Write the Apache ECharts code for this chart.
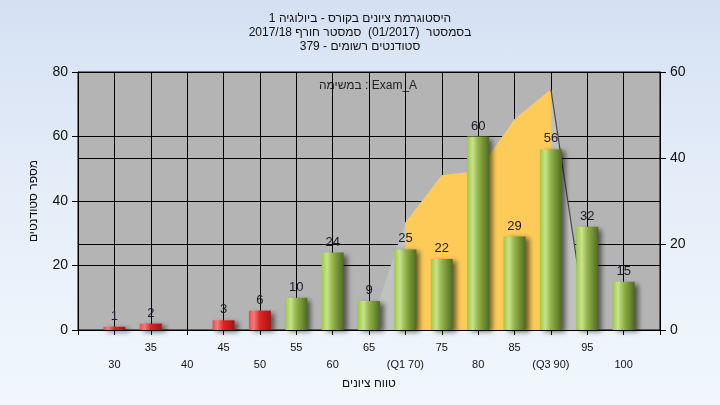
<!DOCTYPE html>
<html>
<head>
<meta charset="utf-8">
<script src="https://cdn.jsdelivr.net/npm/echarts@6/dist/echarts.min.js"></script>
<style>
html,body{margin:0;padding:0;}
#chart{width:720px;height:405px;background:linear-gradient(to bottom,#D5E1F3 0%,#E6EEF9 50%,#F1F7FD 100%);}
</style>
</head>
<body>
<div id="chart"></div>
<script>
// ---- data ----
const categories = [30, 35, 40, 45, 50, 55, 60, 65, 70, 75, 80, 85, 90, 95, 100];
const counts = [1, 2, 0, 3, 6, 10, 24, 9, 25, 22, 60, 29, 56, 32, 15];
const passMark = 55;
const q1 = 70;
const q3 = 90;
const areaX = [65, 70, 75, 80, 85, 90, 95, 100];
const areaValues = [0, 25, 36, 37, 49, 56, 0, 0];
const titleLines = [
  'היסטוגרמת ציונים בקורס - ביולוגיה 1',
  'בסמסטר  (01/2017)  סמסטר חורף 2017/18',
  'סטודנטים רשומים - 379'
];
const examLabel = 'במשימה : Exam_A';
const xAxisTitle = 'טווח ציונים';
const yAxisTitle = 'מספר סטודנטים';

// ---- styles ----
const font = 'Liberation Sans, Arial, sans-serif';
const greenGrad = {type:'linear', x:0, y:0, x2:1, y2:0, colorStops:[
  {offset:0, color:'#9DCB3E'}, {offset:0.25, color:'#C7E28E'}, {offset:0.5, color:'#93B448'}, {offset:1, color:'#4F6A24'}]};
const redGrad = {type:'linear', x:0, y:0, x2:1, y2:0, colorStops:[
  {offset:0, color:'#E84A4A'}, {offset:0.22, color:'#F27C7C'}, {offset:0.5, color:'#E02424'}, {offset:1, color:'#A31414'}]};

const barData = categories.map((c, i) => ({
  value: [c, counts[i]],
  itemStyle: {color: c < passMark ? redGrad : greenGrad}
}));
const areaAll = areaX.map((x, i) => [x, areaValues[i]]);
const areaQ = areaAll.filter(p => p[0] >= q1 && p[0] <= q3);
const areaTail = areaAll.filter(p => p[0] >= q3 && p[0] <= q3 + 5);

const chart = echarts.init(document.getElementById('chart'));
chart.setOption({
  backgroundColor: 'transparent',
  animation: false,
  title: {
    text: titleLines.join('\n'),
    left: 'center', top: 7,
    textStyle: {fontFamily: font, fontSize: 12, fontWeight: 'normal', color: '#111', lineHeight: 14}
  },
  graphic: [{
    type: 'text', x: 368, y: 86,
    style: {text: examLabel, fontFamily: font, fontSize: 12, fill: '#222', align: 'center', verticalAlign: 'middle'}
  }],
  grid: {left: 78, right: 60, top: 72, bottom: 75, show: true, backgroundColor: '#B4B4B4', borderColor: '#000', borderWidth: 1},
  xAxis: {
    type: 'value', min: 25, max: 105, interval: 5,
    name: xAxisTitle, nameLocation: 'middle', nameGap: 44,
    nameTextStyle: {fontFamily: font, fontSize: 12, color: '#111'},
    axisLine: {show: true, lineStyle: {color: '#000', width: 1}},
    axisTick: {show: true, length: 5, lineStyle: {color: '#000'}},
    splitLine: {show: true, lineStyle: {color: '#000', width: 1}},
    axisLabel: {
      fontFamily: font, fontSize: 11, color: '#111', margin: 9, lineHeight: 17,
      formatter: function (v) {
        if (v < categories[0] || v > categories[categories.length - 1]) return '';
        let t = v === q1 ? '(Q1 ' + v + ')' : v === q3 ? '(Q3 ' + v + ')' : String(v);
        return ((v / 5) % 2 === 0) ? '\n' + t : t;
      }
    }
  },
  yAxis: [{
    type: 'value', min: 0, max: 80, interval: 20, position: 'left',
    name: yAxisTitle, nameLocation: 'middle', nameGap: 38, nameRotate: 90,
    nameTextStyle: {fontFamily: font, fontSize: 12, color: '#111'},
    axisLine: {show: true, lineStyle: {color: '#000'}},
    axisTick: {show: true, length: 6, lineStyle: {color: '#000'}},
    splitLine: {show: true, lineStyle: {color: '#000', width: 1}},
    axisLabel: {fontFamily: font, fontSize: 14, color: '#111', margin: 10}
  }, {
    type: 'value', min: 0, max: 60, interval: 20, position: 'right',
    axisLine: {show: true, lineStyle: {color: '#000'}},
    axisTick: {show: true, length: 6, lineStyle: {color: '#000'}},
    splitLine: {show: true, lineStyle: {color: '#000', width: 1}},
    axisLabel: {fontFamily: font, fontSize: 14, color: '#111', margin: 10}
  }],
  series: [{
    type: 'line', yAxisIndex: 1, data: areaAll, symbol: 'none',
    lineStyle: {width: 0}, areaStyle: {color: '#C1C1C1', opacity: 1}, z: 1
  }, {
    type: 'line', yAxisIndex: 1, data: areaQ, symbol: 'none',
    lineStyle: {width: 0}, areaStyle: {color: '#FFCB58', opacity: 1}, z: 1
  }, {
    type: 'line', yAxisIndex: 1, data: areaTail, symbol: 'none',
    lineStyle: {width: 1.2, color: '#4A4A4A'}, z: 1
  }, {
    type: 'bar', yAxisIndex: 0, data: barData, barWidth: 22, z: 3,
    itemStyle: {shadowColor: 'rgba(0,0,0,0.55)', shadowBlur: 5, shadowOffsetX: 4, shadowOffsetY: 2},
    label: {
      show: true, position: 'top', distance: 4, fontFamily: font, fontSize: 13, color: '#1a1a2a',
      formatter: p => p.value[1] === 0 ? '' : String(p.value[1])
    }
  }]
});
</script>
</body>
</html>
